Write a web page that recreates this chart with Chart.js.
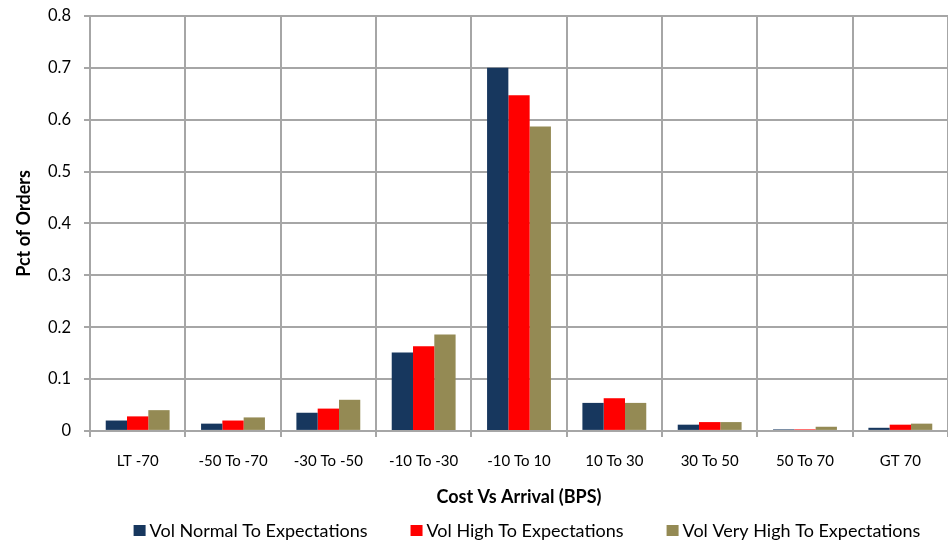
<!DOCTYPE html>
<html>
<head>
<meta charset="utf-8">
<script src="https://cdn.jsdelivr.net/npm/chart.js@4.4.1/dist/chart.umd.min.js"></script>
<style>
  html, body { margin: 0; padding: 0; background: #fff; }
  #wrap { width: 948px; height: 542px; position: relative; }
</style>
</head>
<body>
<div id="wrap"><canvas id="c"></canvas></div>
<script>
// Cost buckets (bps versus arrival price)
const categories = ['LT -70', '-50 To -70', '-30 To -50', '-10 To -30', '-10 To 10', '10 To 30', '30 To 50', '50 To 70', 'GT 70'];

// Share of orders per bucket, by volume regime
const volNormal   = [0.020, 0.014, 0.035, 0.151, 0.700, 0.054, 0.012, 0.003, 0.006];
const volHigh     = [0.028, 0.020, 0.043, 0.163, 0.647, 0.063, 0.017, 0.003, 0.012];
const volVeryHigh = [0.040, 0.026, 0.060, 0.186, 0.587, 0.054, 0.017, 0.008, 0.014];

const seriesNames = ['Vol Normal To Expectations', 'Vol High To Expectations', 'Vol Very High To Expectations'];
const seriesColors = ['#17375E', '#FF0000', '#948A54'];

const yTicks = [0, 0.1, 0.2, 0.3, 0.4, 0.5, 0.6, 0.7, 0.8];

const FONT = 'Lato, "Open Sans", "Liberation Sans", sans-serif';
const GRID = '#a6a6a6';

// Single-row legend under the axis title: square swatch + label, fixed gap between entries
const bottomLegend = {
  id: 'bottomLegend',
  afterDraw(chart, args, opts) {
    const ctx = chart.ctx;
    const items = chart.data.datasets.map(d => ({ text: d.label, color: d.backgroundColor }));
    ctx.save();
    ctx.font = opts.fontSize + 'px ' + FONT;
    const widths = items.map(it => opts.box + opts.boxGap + ctx.measureText(it.text).width);
    const total = widths.reduce((a, b) => a + b, 0) + opts.itemGap * (items.length - 1);
    let x = (chart.chartArea.left + chart.chartArea.right) / 2 - total / 2 + opts.offsetX;
    const base = chart.height - opts.bottom;
    items.forEach((it, i) => {
      ctx.fillStyle = it.color;
      ctx.fillRect(x, base - opts.box, opts.box, opts.box - 1);
      ctx.fillStyle = '#000';
      ctx.textBaseline = 'alphabetic';
      ctx.textAlign = 'left';
      ctx.fillText(it.text, x + opts.box + opts.boxGap, base);
      x += widths[i] + opts.itemGap;
    });
    ctx.restore();
  }
};

new Chart(document.getElementById('c'), {
  type: 'bar',
  data: {
    labels: categories,
    datasets: [volNormal, volHigh, volVeryHigh].map((vals, i) => ({
      label: seriesNames[i],
      data: vals,
      backgroundColor: seriesColors[i],
      borderWidth: 0,
      categoryPercentage: 0.67,
      barPercentage: 1.0
    }))
  },
  plugins: [bottomLegend],
  options: {
    responsive: true,
    maintainAspectRatio: false,
    animation: false,
    layout: { padding: { left: 0, right: 0, top: 0, bottom: 33 } },
    plugins: {
      tooltip: { enabled: false },
      legend: { display: false },
      bottomLegend: { fontSize: 18, box: 12, boxGap: 4, itemGap: 43, bottom: 5, offsetX: 8 }
    },
    scales: {
      x: {
        grid: {
          color: GRID,
          lineWidth: 2,
          offset: true,
          tickLength: 6
        },
        border: { color: GRID, width: 2 },
        ticks: {
          color: '#000',
          font: { family: FONT, size: 15 },
          padding: 15,
          maxRotation: 0,
          autoSkip: false
        },
        title: {
          display: true,
          text: 'Cost Vs Arrival (BPS)',
          color: '#000',
          font: { family: FONT, size: 18, weight: 'bold' },
          padding: { top: 1, bottom: 1.5 }
        }
      },
      y: {
        min: 0,
        max: 0.8,
        afterBuildTicks: (axis) => { axis.ticks = yTicks.map(v => ({ value: v })); },
        afterFit: (axis) => { axis.width = 90; axis.paddingTop = 16; },
        grid: {
          color: GRID,
          lineWidth: 2,
          tickLength: 6
        },
        border: { color: GRID, width: 2 },
        ticks: {
          color: '#000',
          font: { family: FONT, size: 16.5 },
          padding: 13,
          callback: (v) => String(Math.round(v * 10) / 10)
        },
        title: {
          display: true,
          text: 'Pct of Orders',
          color: '#000',
          font: { family: FONT, size: 18, weight: 'bold' },
          padding: { top: 13, bottom: 4 }
        }
      }
    }
  }
});
</script>
</body>
</html>
